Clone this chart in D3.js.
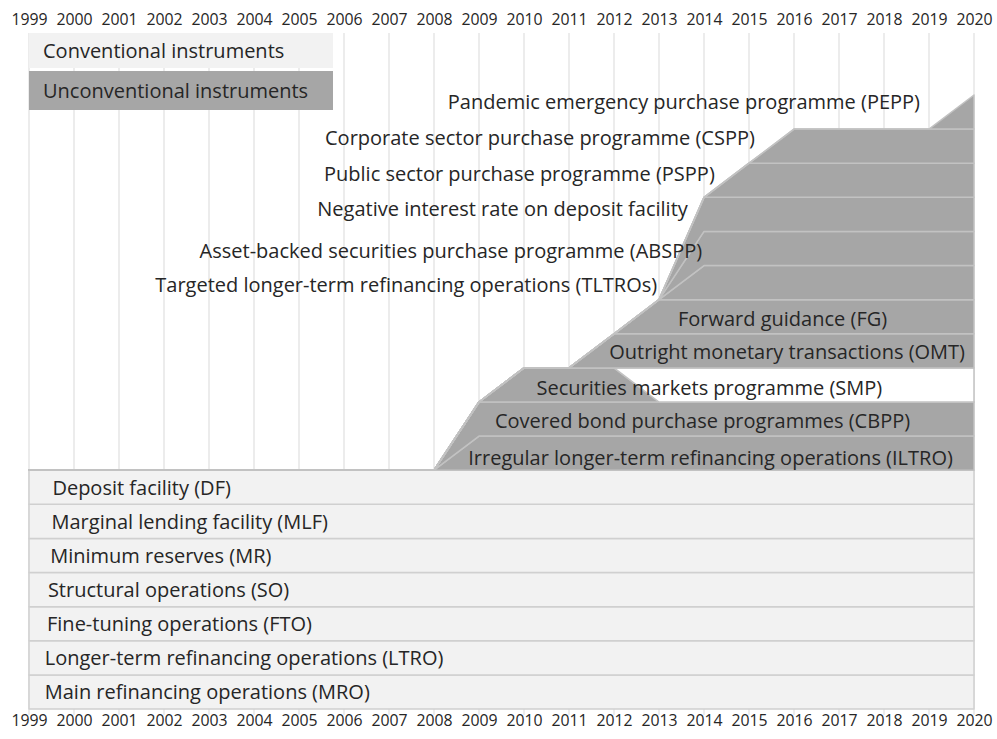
<!DOCTYPE html>
<html><head><meta charset="utf-8">
<script src="https://cdn.jsdelivr.net/npm/d3@7/dist/d3.min.js"></script>
<style>
body{margin:0;background:#fff;}
text{font-family:'Open Sans',Lato,sans-serif;fill:#262626;}
</style>
</head><body>
<svg id="chart" width="997" height="739"></svg>
<script>
// ---- data ----
const years = [1999,2000,2001,2002,2003,2004,2005,2006,2007,2008,2009,2010,2011,2012,2013,2014,2015,2016,2017,2018,2019,2020];

// conventional instruments (bottom to top)
const MRO   = [1,1,1,1,1,1,1,1,1,1,1,1,1,1,1,1,1,1,1,1,1,1];
const LTRO  = [1,1,1,1,1,1,1,1,1,1,1,1,1,1,1,1,1,1,1,1,1,1];
const FTO   = [1,1,1,1,1,1,1,1,1,1,1,1,1,1,1,1,1,1,1,1,1,1];
const SO    = [1,1,1,1,1,1,1,1,1,1,1,1,1,1,1,1,1,1,1,1,1,1];
const MR    = [1,1,1,1,1,1,1,1,1,1,1,1,1,1,1,1,1,1,1,1,1,1];
const MLF   = [1,1,1,1,1,1,1,1,1,1,1,1,1,1,1,1,1,1,1,1,1,1];
const DF    = [1,1,1,1,1,1,1,1,1,1,1,1,1,1,1,1,1,1,1,1,1,1];
// unconventional instruments
const ILTRO = [0,0,0,0,0,0,0,0,0,0,1,1,1,1,1,1,1,1,1,1,1,1];
const CBPP  = [0,0,0,0,0,0,0,0,0,0,1,1,1,1,1,1,1,1,1,1,1,1];
const SMP   = [0,0,0,0,0,0,0,0,0,0,0,1,1,1,0,0,0,0,0,0,0,0];
const GAP   = [0,0,0,0,0,0,0,0,0,0,0,0,0,0,1,1,1,1,1,1,1,1];
const OMT   = [0,0,0,0,0,0,0,0,0,0,0,0,0,1,1,1,1,1,1,1,1,1];
const FG    = [0,0,0,0,0,0,0,0,0,0,0,0,0,0,1,1,1,1,1,1,1,1];
const TLTRO = [0,0,0,0,0,0,0,0,0,0,0,0,0,0,0,1,1,1,1,1,1,1];
const ABSPP = [0,0,0,0,0,0,0,0,0,0,0,0,0,0,0,1,1,1,1,1,1,1];
const NIR   = [0,0,0,0,0,0,0,0,0,0,0,0,0,0,0,1,1,1,1,1,1,1];
const PSPP  = [0,0,0,0,0,0,0,0,0,0,0,0,0,0,0,0,1,1,1,1,1,1];
const CSPP  = [0,0,0,0,0,0,0,0,0,0,0,0,0,0,0,0,0,1,1,1,1,1];
const PEPP  = [0,0,0,0,0,0,0,0,0,0,0,0,0,0,0,0,0,0,0,0,0,1];

const seriesKeys = ["MRO","LTRO","FTO","SO","MR","MLF","DF","ILTRO","CBPP","SMP","GAP","OMT","FG","TLTRO","ABSPP","NIR","PSPP","CSPP","PEPP"];
const seriesValues = {MRO,LTRO,FTO,SO,MR,MLF,DF,ILTRO,CBPP,SMP,GAP,OMT,FG,TLTRO,ABSPP,NIR,PSPP,CSPP,PEPP};
const seriesType = {MRO:"conv",LTRO:"conv",FTO:"conv",SO:"conv",MR:"conv",MLF:"conv",DF:"conv",
  ILTRO:"unconv",CBPP:"unconv",SMP:"unconv",GAP:"gap",OMT:"unconv",FG:"unconv",TLTRO:"unconv",ABSPP:"unconv",NIR:"unconv",PSPP:"unconv",CSPP:"unconv",PEPP:"unconv"};

const labelText = {
  MRO:"Main refinancing operations (MRO)",
  LTRO:"Longer-term refinancing operations (LTRO)",
  FTO:"Fine-tuning operations (FTO)",
  SO:"Structural operations (SO)",
  MR:"Minimum reserves (MR)",
  MLF:"Marginal lending facility (MLF)",
  DF:"Deposit facility (DF)",
  ILTRO:"Irregular longer-term refinancing operations (ILTRO)",
  CBPP:"Covered bond purchase programmes (CBPP)",
  SMP:"Securities markets programme (SMP)",
  OMT:"Outright monetary transactions (OMT)",
  FG:"Forward guidance (FG)",
  TLTRO:"Targeted longer-term refinancing operations (TLTROs)",
  ABSPP:"Asset-backed securities purchase programme (ABSPP)",
  NIR:"Negative interest rate on deposit facility",
  PSPP:"Public sector purchase programme (PSPP)",
  CSPP:"Corporate sector purchase programme (CSPP)",
  PEPP:"Pandemic emergency purchase programme (PEPP)"
};
// label anchor (in years): conventional = start, unconventional = end
const labelAnchorYear = {
  MRO:1999.35, LTRO:1999.35, FTO:1999.4, SO:1999.42, MR:1999.47, MLF:1999.5, DF:1999.52,
  ILTRO:2019.53, CBPP:2018.58, SMP:2017.96, OMT:2019.8, FG:2018.07, TLTRO:2012.96,
  ABSPP:2013.96, NIR:2013.64, PSPP:2014.24, CSPP:2015.13, PEPP:2018.8
};
// label vertical shift in band units (positive = down)
const labelBandShift = {
  MRO:0, LTRO:0, FTO:0, SO:0, MR:0, MLF:0, DF:0,
  ILTRO:0.12, CBPP:0.05, SMP:0.08, OMT:0.02, FG:0.05, TLTRO:0.05, ABSPP:0.05,
  NIR:-0.18, PSPP:-0.2, CSPP:-0.25, PEPP:-0.3
};
const legendItems = ["Conventional instruments","Unconventional instruments"];

// ---- chart ----
const FONT = "'Open Sans',Lato,sans-serif";
const svg = d3.select("#chart");
const x = d3.scaleLinear().domain([1999,2020]).range([29,974]);
const y = d3.scaleLinear().domain([0,18]).range([709,95]);
const plotTop = 33, tickBottom = 715;

const rows = years.map((yr,i)=>{const r={year:yr}; seriesKeys.forEach(k=>r[k]=seriesValues[k][i]); return r;});
const stacked = d3.stack().keys(seriesKeys)(rows);

// gridlines
svg.append("g").selectAll("line").data(years).join("line")
  .attr("x1",d=>x(d)).attr("x2",d=>x(d)).attr("y1",plotTop).attr("y2",tickBottom)
  .attr("stroke","#d9d9d9").attr("stroke-width",1);

const area = d3.area().x(d=>x(d.data.year)).y0(d=>y(d[0])).y1(d=>y(d[1]));
const fills = {conv:"#f2f2f2", unconv:"#a6a6a6", gap:"#ffffff"};
const strokes = {conv:"#d0d0d0", unconv:"#c2c2c2", gap:"#c2c2c2"};
svg.append("g").selectAll("path").data(stacked).join("path")
  .attr("d",area)
  .attr("fill",s=>fills[seriesType[s.key]])
  .attr("stroke",s=>strokes[seriesType[s.key]])
  .attr("stroke-width",1.5)
  .attr("stroke-linejoin","round");

// axes
const fmt = d3.format("d");
const axT = svg.append("g").attr("transform",`translate(0,${plotTop-6})`)
  .call(d3.axisTop(x).tickValues(years).tickFormat(fmt).tickSize(0).tickPadding(0));
const axB = svg.append("g").attr("transform",`translate(0,${tickBottom-2})`)
  .call(d3.axisBottom(x).tickValues(years).tickFormat(fmt).tickSize(0).tickPadding(0));
[axT,axB].forEach(a=>{a.select(".domain").remove();
  a.selectAll("text").style("font-family",FONT).style("font-size","15.8px").attr("fill","#262626");});
axT.selectAll("text").attr("dy","-0.1em");
axB.selectAll("text").attr("dy","0.85em");

// series labels: placed in the band where the series last has a non-zero value
function bandMid(s){
  let idx = s.length-1;
  while(idx>0 && s[idx][1]-s[idx][0]<=0) idx--;
  return (s[idx][0]+s[idx][1])/2;
}
const labelSeries = stacked.filter(s=>labelText[s.key]);
svg.append("g").selectAll("text").data(labelSeries).join("text")
  .attr("x",s=>x(labelAnchorYear[s.key]))
  .attr("y",s=>y(bandMid(s) - labelBandShift[s.key]))
  .attr("text-anchor",s=>seriesType[s.key]==="conv"?"start":"end")
  .attr("dominant-baseline","central")
  .style("font-size","20px")
  .text(s=>labelText[s.key]);

// legend
const lg = svg.append("g");
const legendFill = ["#f2f2f2","#a6a6a6"];
const legendY = [[33,68],[71,110]];
legendItems.forEach((t,i)=>{
  lg.append("rect").attr("x",x(1999)).attr("y",legendY[i][0]).attr("width",304).attr("height",legendY[i][1]-legendY[i][0]).attr("fill",legendFill[i]);
  lg.append("text").attr("x",x(1999)+14).attr("y",(legendY[i][0]+legendY[i][1])/2).attr("dominant-baseline","central")
    .style("font-size","20px").text(t);
});
</script>
</body></html>
